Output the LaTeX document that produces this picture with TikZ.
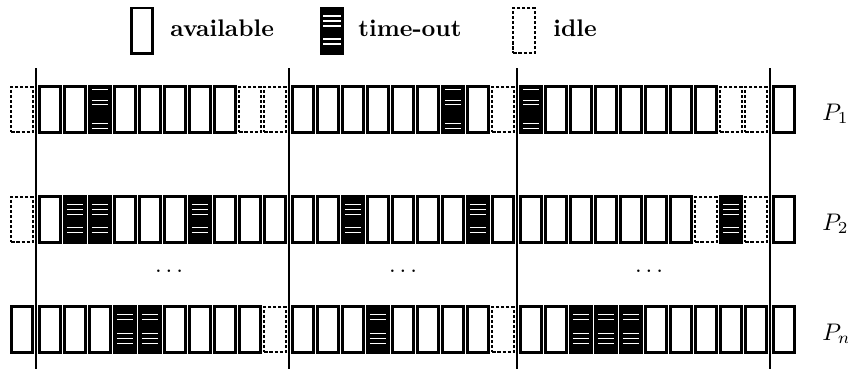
\documentclass[tikz,border=0pt]{standalone}
\usepackage{amsmath}
\usepackage{tikz}
\usetikzlibrary{calc, positioning}

\begin{document}
\begin{tikzpicture}[x=0.4167pt, y=-0.4167pt]
    % Estilos das caixas e das linhas
    \tikzstyle{slotbox} = [rectangle, draw, line width=1.15pt, minimum width=8.8pt, minimum height=18.9pt, inner sep=0pt, outer sep=0pt]
    \tikzstyle{slot_a} = [slotbox, fill=white]
    \tikzstyle{slot_t} = [slotbox, fill=black]
    \tikzstyle{slot_i} = [slotbox, line width=0.85pt, dash pattern=on 1.3pt off 0.8pt]
    \tikzstyle{hatch_line} = [draw, white, line width=0.45pt]
    \tikzstyle{sep_line} = [draw, line width=0.9pt]
    \tikzstyle{key_text} = [font=\bfseries, anchor=base west, inner sep=0pt]
    \tikzstyle{proc_label} = [anchor=base west, inner sep=0pt]

    \useasboundingbox (0,0) rectangle (848,371);

    % Legenda
    \node [slot_a] (key_a) at (142,30.7) {};
    \node [key_text] (txt_a) at (170,36) {available};
    \node [slot_t] (key_t) at (332,30.7) {};
    \node [key_text] (txt_t) at (358,36) {time-out};
    \node [slot_i] (key_i) at (524,30.7) {};
    \node [key_text] (txt_i) at (553,36) {idle};
    \foreach \dy in {8,13,18,31,36}
        \draw [hatch_line] ($(key_t.north west)+(2,\dy)$) -- ($(key_t.north east)+(-2,\dy)$);

    % Fileiras de intervalos (a = available, t = time-out, i = idle)
    \foreach \k [count=\i from 0] in {i,a,a,t,a,a,a,a,a,i,i,a,a,a,a,a,a,t,a,i,t,a,a,a,a,a,a,a,i,i,a}
        \node [slot_\k] (r1-\i) at ({22+25*\i+3*((\i>0)+(\i>10)+(\i>19)+(\i>29))},109.5) {};
    \foreach \k [count=\i from 0] in {i,a,t,t,a,a,a,t,a,a,a,a,a,t,a,a,a,a,t,a,a,a,a,a,a,a,a,i,t,i,a}
        \node [slot_\k] (r2-\i) at ({22+25*\i+3*((\i>0)+(\i>10)+(\i>19)+(\i>29))},219.5) {};
    \foreach \k [count=\i from 0] in {a,a,a,a,t,t,a,a,a,a,i,a,a,a,t,a,a,a,a,i,a,a,t,t,t,a,a,a,a,a,a}
        \node [slot_\k] (r3-\i) at ({22+25*\i+3*((\i>0)+(\i>10)+(\i>19)+(\i>29))},329.5) {};

    % Riscos brancos dentro dos time-outs
    \foreach \i in {3,17,20}
        \foreach \dy in {2.5,14,18,36.5,42}
            \draw [hatch_line] ($(r1-\i.north west)+(2.5,\dy)$) -- ($(r1-\i.north east)+(-2.5,\dy)$);
    \foreach \i in {2,3,7,13,18,28}
        \foreach \dy in {8,13,18,31,36}
            \draw [hatch_line] ($(r2-\i.north west)+(2.5,\dy)$) -- ($(r2-\i.north east)+(-2.5,\dy)$);
    \foreach \i in {4,5,14,22,23,24}
        \foreach \dy in {8,13,26.5,31.5,36.5}
            \draw [hatch_line] ($(r3-\i.north west)+(2.5,\dy)$) -- ($(r3-\i.north east)+(-2.5,\dy)$);

    % Separadores dos periodos
    \foreach \a/\b in {0/1, 10/11, 19/20, 29/30}
        \draw [sep_line] ($(r1-\a.east)!0.5!(r1-\b.west)$) ++(0,-41.5) -- ++(0,300.5);

    % Reticencias entre P2 e Pn
    \node [anchor=base] (dots1) at (169,272) {$\ldots$};
    \node [anchor=base] (dots2) at (403,272) {$\ldots$};
    \node [anchor=base] (dots3) at (649,272) {$\ldots$};

    % Nomes dos processadores
    \node [proc_label] (lbl_p1) at (822,120) {$P_1$};
    \node [proc_label] (lbl_p2) at (822,230) {$P_2$};
    \node [proc_label] (lbl_pn) at (822,340) {$P_n$};
\end{tikzpicture}
\end{document}
